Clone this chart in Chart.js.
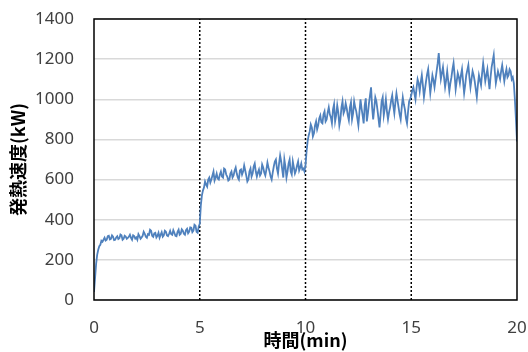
<!DOCTYPE html>
<html>
<head>
<meta charset="utf-8">
<script src="https://cdn.jsdelivr.net/npm/chart.js@4.4.0/dist/chart.umd.min.js"></script>
<style>
  html, body { margin: 0; padding: 0; background: #fff; }
  #wrap { width: 528px; height: 352px; }
</style>
</head>
<body>
<div id="wrap"><canvas id="heatChart"></canvas></div>
<script>
// sampling interval of the record (min)
const timeStep = 0.05;

// heat release rate (kW), one value per 0.05 min
const phase1 = [ // 0.00 - 4.95 min
    40, 110, 180, 225, 250, 268, 275, 295, 290, 300,
    310, 296, 300, 318, 320, 302, 305, 322, 315, 298,
    300, 312, 318, 304, 308, 326, 322, 300, 305, 320,
    316, 305, 310, 315, 325, 310, 300, 322, 318, 306,
    312, 300, 328, 318, 305, 312, 320, 340, 330, 315,
    310, 328, 325, 350, 345, 320, 315, 332, 335, 312,
    320, 335, 310, 325, 338, 315, 322, 345, 340, 322,
    318, 330, 345, 328, 325, 348, 335, 320, 318, 340,
    350, 325, 330, 352, 345, 330, 325, 348, 355, 332,
    340, 362, 360, 338, 345, 375, 370, 340, 335, 365
];
const phase2 = [ // 5.00 - 9.95 min
    380, 470, 520, 545, 560, 590, 575, 565, 600, 610,
    585, 600, 620, 640, 595, 610, 630, 605, 600, 625,
    640, 615, 610, 655, 650, 625, 615, 595, 600, 630,
    640, 610, 620, 645, 660, 630, 610, 600, 645, 650,
    625, 640, 670, 645, 620, 590, 600, 640, 655, 615,
    630, 665, 680, 640, 615, 635, 650, 620, 630, 675,
    660, 635, 620, 650, 685, 660, 640, 615, 600, 635,
    665, 690, 700, 655, 630, 680, 720, 690, 650, 610,
    700, 665, 610, 640, 680, 700, 640, 625, 690, 660,
    630, 645, 670, 690, 645, 660, 680, 650, 655, 640
];
const phase3 = [ // 10.00 - 14.95 min
    670, 740, 790, 820, 840, 875, 860, 815, 830, 870,
    890, 850, 870, 905, 920, 885, 880, 925, 940, 890,
    900, 935, 960, 925, 910, 880, 950, 975, 890, 920,
    970, 935, 870, 900, 960, 990, 930, 945, 980, 955,
    920, 895, 960, 985, 900, 930, 990, 960, 940, 905,
    870, 935, 1000, 955, 920, 880, 970, 1005, 890, 930,
    980, 1020, 1060, 960, 900, 955, 1010, 990, 950, 905,
    860, 925, 990, 1010, 920, 955, 1000, 940, 900, 935,
    960, 995, 1020, 970, 930, 985, 1030, 995, 960, 925,
    900, 960, 1010, 975, 950, 905, 880, 940, 990, 1000
];
const phase4 = [ // 15.00 - 20.00 min
    1020, 1045, 1060, 1030, 1000, 1055, 1100, 1080, 1040, 1085,
    1120, 1070, 1010, 1050, 1090, 1125, 1150, 1090, 1030, 1075,
    1120, 1095, 1060, 1100, 1140, 1180, 1230, 1160, 1100, 1130,
    1160, 1110, 1060, 1095, 1140, 1090, 1040, 1080, 1110, 1150,
    1180, 1120, 1050, 1090, 1130, 1110, 1080, 1120, 1150, 1090,
    1030, 1070, 1120, 1145, 1170, 1110, 1060, 1100, 1140, 1120,
    1090, 1050, 1010, 1070, 1120, 1095, 1070, 1130, 1180, 1135,
    1090, 1120, 1150, 1100, 1050, 1110, 1160, 1190, 1220, 1140,
    1080, 1110, 1140, 1120, 1100, 1140, 1170, 1130, 1090, 1125,
    1150, 1110, 1120, 1150, 1140, 1100, 1110, 1080, 1000, 900,
    790
];

// phase change times (dotted lines)
const markerTimes = [5, 10, 15];

const xTicks = [0, 5, 10, 15, 20];
const yMin = 0, yMax = 1400, yStep = 200;

const heatRelease = [...phase1, ...phase2, ...phase3, ...phase4];
const heatPoints = heatRelease.map((v, i) => ({ x: +(i * timeStep).toFixed(2), y: v }));

const markerSets = markerTimes.map(t => ({
    data: [{ x: t, y: yMin }, { x: t, y: yMax }],
    borderColor: '#000',
    borderWidth: 1.5,
    borderDash: [2, 2],
    pointRadius: 0,
    order: 2
}));

// box around plot area
const frameBox = {
    id: 'frameBox',
    afterDraw(chart) {
        const { ctx, chartArea: a } = chart;
        ctx.save();
        ctx.strokeStyle = '#000';
        ctx.lineWidth = 1.5;
        ctx.strokeRect(a.left, a.top, a.right - a.left, a.bottom - a.top);
        ctx.restore();
    }
};

const tickFont = { family: "'Noto Sans', sans-serif", size: 17 };
const titleFont = { family: "'Noto Sans CJK JP', sans-serif", size: 18, weight: 'bold' };

new Chart(document.getElementById('heatChart'), {
    type: 'line',
    data: {
        datasets: [
            {
                data: heatPoints,
                borderColor: '#4f81bd',
                borderWidth: 1.8,
                pointRadius: 0,
                tension: 0,
                order: 1
            },
            ...markerSets
        ]
    },
    options: {
        responsive: true,
        maintainAspectRatio: false,
        animation: false,
        layout: { padding: { left: 0, right: 11, top: 19, bottom: 0 } },
        plugins: {
            legend: { display: false },
            tooltip: { enabled: false }
        },
        scales: {
            x: {
                type: 'linear',
                min: xTicks[0],
                max: xTicks[xTicks.length - 1],
                afterBuildTicks: s => { s.ticks = xTicks.map(v => ({ value: v })); },
                afterFit: s => { s.height = 52; s.paddingLeft = 0; s.paddingRight = 0; },
                grid: { display: false, drawTicks: false },
                border: { display: false },
                ticks: { font: tickFont, color: '#404040', padding: 18, maxRotation: 0 },
                title: { display: true, text: '時間(min)', font: titleFont, color: '#000', padding: { top: 0, bottom: 1 } }
            },
            y: {
                min: yMin,
                max: yMax,
                afterFit: s => { s.width = 94; s.paddingTop = 0; s.paddingBottom = 0; },
                grid: { color: '#d9d9d9', lineWidth: 1.5, drawTicks: false },
                border: { display: false },
                ticks: { stepSize: yStep, font: tickFont, color: '#404040', padding: 20, callback: v => String(v) },
                title: { display: true, text: '発熱速度(kW)', font: titleFont, color: '#000', padding: { top: 7, bottom: 0 } }
            }
        }
    },
    plugins: [frameBox]
});
</script>
</body>
</html>
